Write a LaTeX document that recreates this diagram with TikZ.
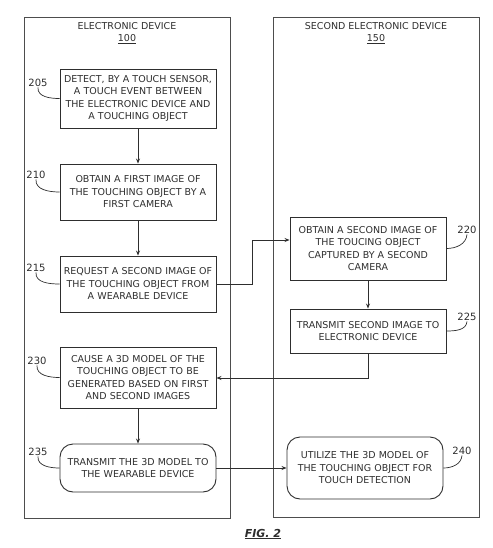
\documentclass[tikz,border=0pt]{standalone}
\usepackage{fontspec}
\setmainfont{DejaVu Sans}
\usetikzlibrary{arrows.meta}
\definecolor{ink}{HTML}{2E2E2E}
\begin{document}
\begin{tikzpicture}[x=1pt,y=-1pt,
  every node/.style={text=ink},
  txt/.style={font=\fontsize{9.5}{12.5}\selectfont, align=center},
  stepbox/.style={draw=ink, line width=0.9pt, txt, minimum width=156pt, text width=150pt, inner sep=0pt},
  roundbox/.style={stepbox, rounded corners=13pt},
  outer/.style={draw=ink!85, line width=0.9pt},
  arr/.style={draw=ink, line width=0.8pt, -{Stealth[length=5pt,width=4pt]}},
  lead/.style={draw=ink, line width=0.7pt},
  num/.style={font=\fontsize{10}{12}\selectfont, inner sep=0.5pt}
]
\useasboundingbox (0,0) rectangle (492,548);
% outer frames
\draw[outer] (24,17) rectangle (230,518);
\draw[outer] (273,17) rectangle (479,517);
\node[txt] (t100) at (127,33) {ELECTRONIC DEVICE\\\underline{100}};
\node[txt] (t150) at (376,33) {SECOND ELECTRONIC DEVICE\\\underline{150}};
% boxes
\node[stepbox, minimum height=59pt] (b205) at (138,98.5) {DETECT, BY A TOUCH SENSOR,\\A TOUCH EVENT BETWEEN\\THE ELECTRONIC DEVICE AND\\A TOUCHING OBJECT};
\node[stepbox, minimum height=56pt] (b210) at (138,192) {OBTAIN A FIRST IMAGE OF\\THE TOUCHING OBJECT BY A\\FIRST CAMERA};
\node[stepbox, minimum height=56pt] (b215) at (138,284) {REQUEST A SECOND IMAGE OF\\THE TOUCHING OBJECT FROM\\A WEARABLE DEVICE};
\node[stepbox, minimum height=61pt] (b230) at (138,377.5) {CAUSE A 3D MODEL OF THE\\TOUCHING OBJECT TO BE\\GENERATED BASED ON FIRST\\AND SECOND IMAGES};
\node[roundbox, minimum height=48pt] (b235) at (138,468) {TRANSMIT THE 3D MODEL TO\\THE WEARABLE DEVICE};
\node[stepbox, minimum height=63pt] (b220) at (368,248.5) {OBTAIN A SECOND IMAGE OF\\THE TOUCING OBJECT\\CAPTURED BY A SECOND\\CAMERA};
\node[stepbox, minimum height=44pt] (b225) at (368,331) {TRANSMIT SECOND IMAGE TO\\ELECTRONIC DEVICE};
\node[roundbox, minimum height=62pt] (b240) at (365,468) {UTILIZE THE 3D MODEL OF\\THE TOUCHING OBJECT FOR\\TOUCH DETECTION};
% labels
\node[num] (l205) at (38,83) {205};
\node[num] (l210) at (36,175) {210};
\node[num] (l215) at (36,268) {215};
\node[num] (l230) at (37,361) {230};
\node[num] (l235) at (38,452) {235};
\node[num] (l220) at (467,230) {220};
\node[num] (l225) at (467,317) {225};
\node[num] (l240) at (462,451) {240};
\draw[lead] (l205.south) to[out=-95,in=180] (b205.west);
\draw[lead] (l210.south) to[out=-95,in=180] (b210.west);
\draw[lead] (l215.south) to[out=-95,in=180] (b215.west);
\draw[lead] (l230.south) to[out=-95,in=180] (b230.west);
\draw[lead] (l235.south) to[out=-95,in=180] (b235.west);
\draw[lead] (l220.south) to[out=-95,in=0] (b220.east);
\draw[lead] (l225.south) to[out=-95,in=0] (b225.east);
\draw[lead] (l240.south) to[out=-95,in=0] (b240.east);
% connectors
\coordinate (j1) at (252,284);
\coordinate (j2) at (252,240);
\coordinate (j3) at (368,378);
\draw[arr] (b205) -- (b210);
\draw[arr] (b210) -- (b215);
\draw[arr] (b215.east) -- (j1) -- (j2) -- (b220.west |- j2);
\draw[arr] (b220) -- (b225);
\draw[arr] (b225.south) -- (j3) -- (b230.east |- j3);
\draw[arr] (b230) -- (b235);
\draw[arr] (b235.east) -- (b240.west |- b235.east);
% caption
\node[font=\fontsize{11}{13}\selectfont\bfseries\itshape] (fig) at (263,534) {\underline{FIG. 2}};
\end{tikzpicture}
\end{document}
